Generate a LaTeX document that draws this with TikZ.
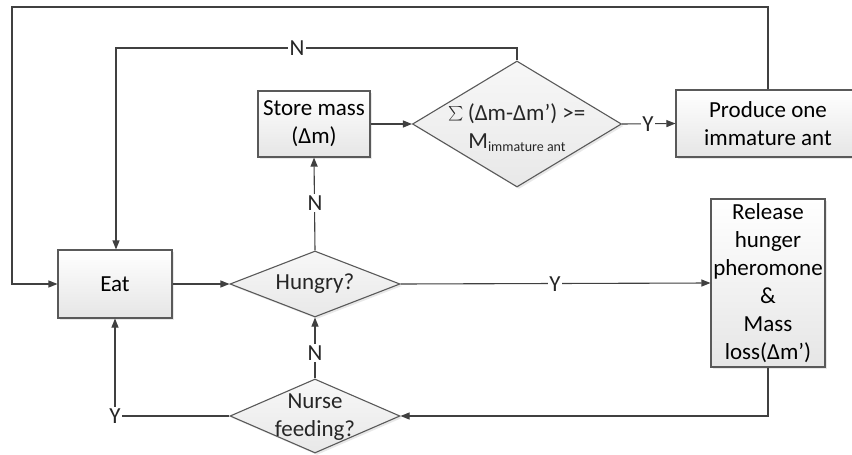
\documentclass[tikz,border=0pt]{standalone}
\usepackage{fontspec}
\setmainfont{Carlito}
\usetikzlibrary{arrows.meta,shapes.geometric,shadows}
\begin{document}
\begin{tikzpicture}[x=1pt,y=-1pt,
  font=\fontsize{23}{28}\selectfont,
  line/.style={draw=black!75, line width=1.1pt},
  arr/.style={line, -{Triangle[length=9pt,width=7pt]}},
  shd/.style={drop shadow={opacity=0.18, shadow xshift=2pt, shadow yshift=-2pt}},
  proc/.style={rectangle, draw=black!65, line width=1.1pt, top color=white, bottom color=black!10, align=center, inner sep=0pt, shd},
  dec/.style={diamond, draw=black!65, line width=1.1pt, top color=black!3, bottom color=black!9, inner sep=0pt, shd},
  lbl/.style={fill=white, inner sep=1.5pt, text=black!85},
  txt/.style={align=center, inner sep=0pt, text=black!85}]
\useasboundingbox (0,0) rectangle (852,455);
\clip (0,0) rectangle (852,455);
\fill[white] (0,0) rectangle (852,455);

% nodes
\node[proc, minimum width=114pt, minimum height=68pt] (eat) at (115,284) {Eat};
\node[dec, minimum width=170pt, minimum height=66pt] (hungry) at (315,284) {};
\node[txt] (hungrytxt) at (hungry) {Hungry?};
\node[proc, minimum width=112pt, minimum height=66pt] (store) at (314,124) {Store mass\\(Δm)};
\node[dec, minimum width=209pt, minimum height=126pt] (sum) at (517,124) {};
\node[txt] (sumtxt) at (517,128) {\raisebox{-2pt}{\scalebox{1.45}{$\sum$}}\,(Δm-Δm’) >=\\M\raisebox{-3pt}{\fontsize{14}{16}\selectfont immature ant}};
\node[proc, minimum width=184pt, minimum height=67pt] (produce) at (768,123.5) {Produce one\\immature ant};
\node[proc, minimum width=114pt, minimum height=168pt] (release) at (768,283) {Release\\hunger\\pheromone\\\&\\Mass\\loss(Δm’)};
\node[dec, minimum width=170pt, minimum height=74pt] (nurse) at (315,416) {};
\node[txt] (nursetxt) at (315,417) {Nurse\\feeding?};

% helper coordinates
\coordinate (outerc) at (12,7);
\coordinate (nloopc) at (116,48);

% connectors
\draw[arr] (produce.north) |- (outerc) |- (eat.west);
\draw[arr] (sum.north) |- (nloopc) -- (nloopc |- eat.north);
\draw[arr] (store.east) -- (sum.west);
\draw[arr] (sum.east) -- (produce.west);
\draw[arr] (eat.east) -- (hungry.west);
\draw[arr] (hungry.east) -- (release.west);
\draw[arr] (hungry.north) -- (store.south);
\draw[arr] (release.south) |- (nurse.east);
\draw[arr] (nurse.north) -- (hungry.south);
\draw[arr] (nurse.west) -| (eat.south);

% labels
\node[lbl] (lN1) at (297,48) {N};
\node[lbl] (lY1) at (648,124) {Y};
\node[lbl] (lY2) at (555,284) {Y};
\node[lbl] (lN2) at (315,203) {N};
\node[lbl] (lN3) at (315,353) {N};
\node[lbl] (lY3) at (115,416) {Y};
\end{tikzpicture}
\end{document}
